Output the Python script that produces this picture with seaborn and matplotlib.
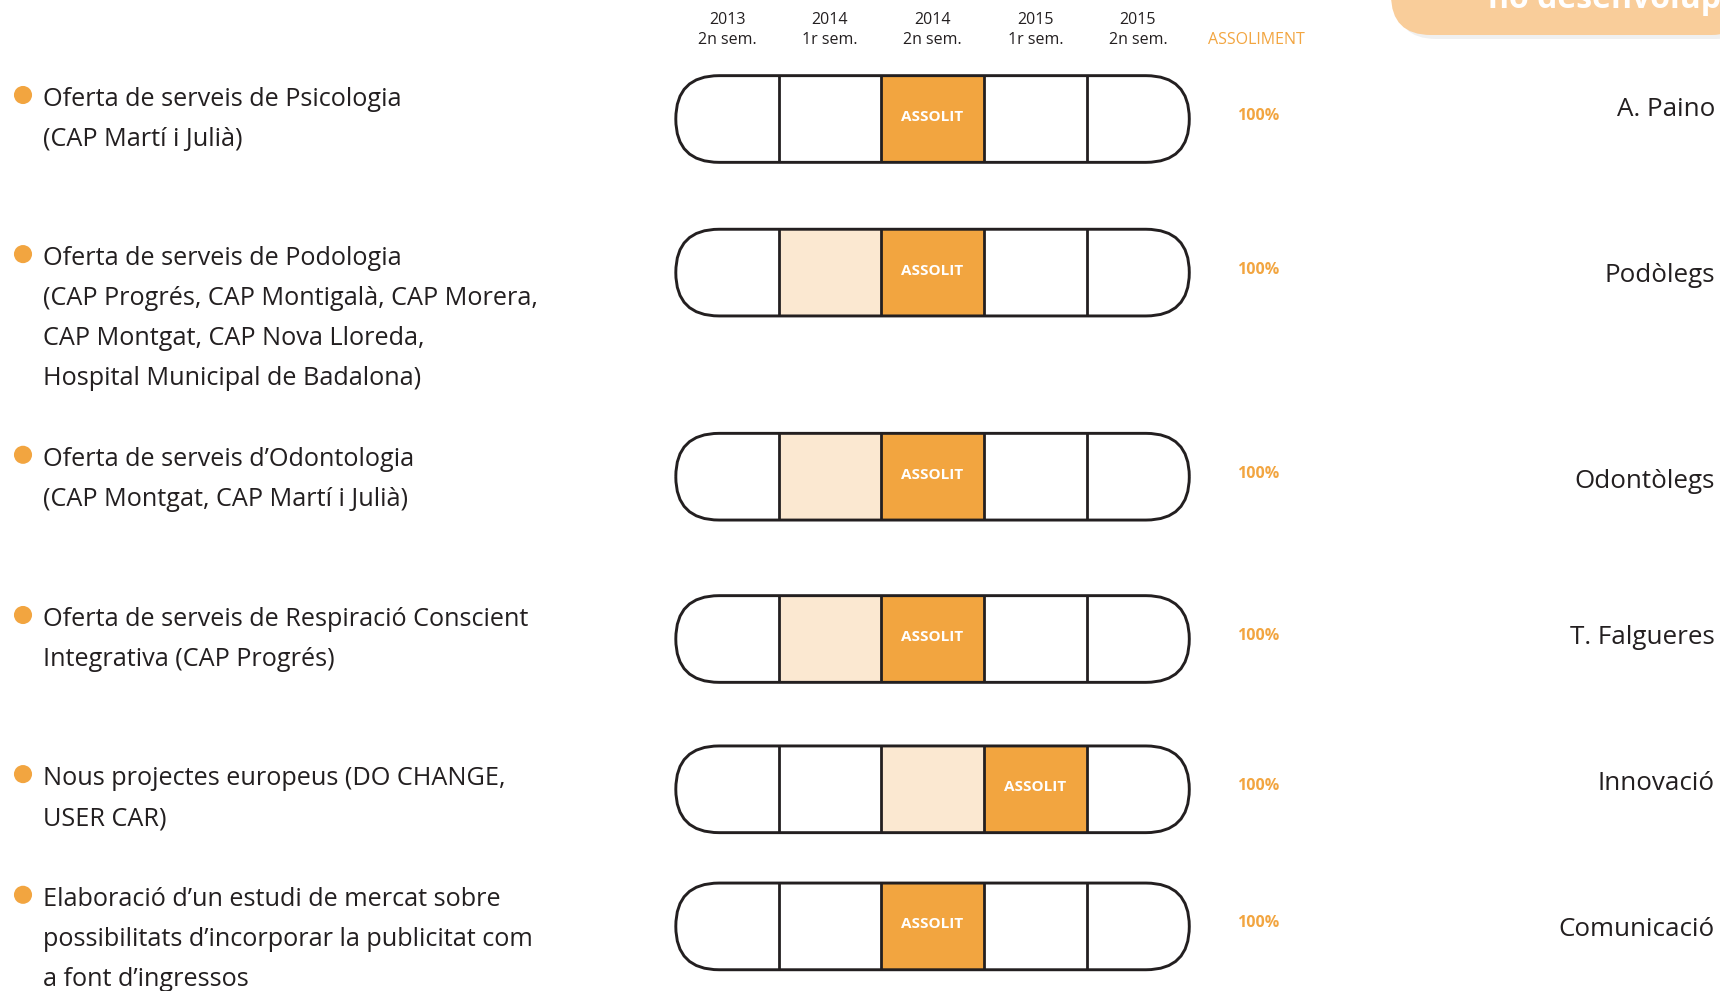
"""
Calendar of service actions: semester grid with achievement status
"""

import matplotlib.pyplot as plt
import seaborn as sns
import numpy as np
import pandas as pd
from matplotlib.patches import FancyBboxPatch, Rectangle

sns.set_style("white")
plt.rcParams['font.family'] = ['Open Sans', 'DejaVu Sans']

# Data
periods = ['2013\n2n sem.', '2014\n1r sem.', '2014\n2n sem.', '2015\n1r sem.', '2015\n2n sem.']
actions = [
    ['Oferta de serveis de Psicologia', '(CAP Martí i Julià)'],
    ['Oferta de serveis de Podologia', '(CAP Progrés, CAP Montigalà, CAP Morera,',
     'CAP Montgat, CAP Nova Lloreda,', 'Hospital Municipal de Badalona)'],
    ['Oferta de serveis d\u2019Odontologia', '(CAP Montgat, CAP Martí i Julià)'],
    ['Oferta de serveis de Respiració Conscient', 'Integrativa (CAP Progrés)'],
    ['Nous projectes europeus (DO CHANGE,', 'USER CAR)'],
    ['Elaboració d\u2019un estudi de mercat sobre',
     'possibilitats d\u2019incorporar la publicitat com', 'a font d\u2019ingressos'],
]
owners = ['A. Paino', 'Podòlegs', 'Odontòlegs', 'T. Falgueres', 'Innovació', 'Comunicació']
# status per semester: 0 = not planned, 1 = in progress, 2 = achieved
status = [
    [0, 0, 2, 0, 0],
    [0, 1, 2, 0, 0],
    [0, 1, 2, 0, 0],
    [0, 1, 2, 0, 0],
    [0, 0, 1, 2, 0],
    [0, 0, 2, 0, 0],
]
achievement = [100, 100, 100, 100, 100, 100]

# Layout (pixel coordinates)
W, H = 1720, 991
row_y = [119, 272.6, 476.7, 639, 789.3, 926.4]
text_y = [99.5, 258.6, 459.3, 619.5, 778.6, 899.3]
owner_y = [109, 276, 482, 637, 784, 930]
line_gap = 40
pill_left, cell_w, pill_h = 675.8, 102.7, 86.7

orange = '#f2a540'
light = '#fbe8d1'
edge = '#231f20'
text_col = '#231f20'
status_colors = {0: 'white', 1: light, 2: orange}

fig = plt.figure(figsize=(W / 100, H / 100), dpi=100)
ax = fig.add_axes([0, 0, 1, 1])
ax.set_xlim(0, W)
ax.set_ylim(H, 0)
ax.axis('off')

# Header
for i, p in enumerate(periods):
    ax.text(pill_left + (i + 0.5) * cell_w, 30, p, ha='center', va='center',
            fontsize=11.5, color=text_col, linespacing=1.3)
ax.text(1256, 40, 'ASSOLIMENT', ha='center', va='center', fontsize=11.5, color=orange)

# Top-right tab (clipped legend box)
shadow = FancyBboxPatch((1396, -60), 360, 99, boxstyle='round,pad=0,rounding_size=40',
                        facecolor='#000000', edgecolor='none', alpha=0.06, zorder=1)
ax.add_patch(shadow)
tab = FancyBboxPatch((1391, -60), 360, 95, boxstyle='round,pad=0,rounding_size=40',
                     facecolor='#f9cd9a', edgecolor='none', zorder=2)
ax.add_patch(tab)
ax.text(1488, 8, 'no desenvolupat', ha='left', va='baseline', fontsize=23,
        fontweight='bold', color='white', zorder=3)

# Rows
df = pd.DataFrame(status, columns=periods)
for r, row in df.iterrows():
    yc = row_y[r]
    top = yc - pill_h / 2
    pill = FancyBboxPatch((pill_left, top), 5 * cell_w, pill_h,
                          boxstyle=f'round,pad=0,rounding_size={pill_h / 2}',
                          facecolor='white', edgecolor='none', zorder=2)
    ax.add_patch(pill)
    for i, s in enumerate(row.values):
        cell = Rectangle((pill_left + i * cell_w, top), cell_w, pill_h,
                         facecolor=status_colors[s], edgecolor='none', zorder=3)
        cell.set_clip_path(pill)
        ax.add_patch(cell)
        if s == 2:
            ax.text(pill_left + (i + 0.5) * cell_w, yc - 2, 'ASSOLIT', ha='center',
                    va='center', fontsize=11, fontweight='bold', color='white', zorder=5)
    for i in range(1, 5):
        ax.plot([pill_left + i * cell_w] * 2, [top, top + pill_h], color=edge,
                lw=2.0, zorder=4, solid_capstyle='butt')
    outline = FancyBboxPatch((pill_left, top), 5 * cell_w, pill_h,
                             boxstyle=f'round,pad=0,rounding_size={pill_h / 2}',
                             facecolor='none', edgecolor=edge, lw=2.1, zorder=5)
    ax.add_patch(outline)

    ax.text(1258, yc - 3, f'{achievement[r]}%', ha='center', va='center',
            fontsize=11.5, fontweight='bold', color=orange)
    ax.text(1715, owner_y[r], owners[r], ha='right', va='center', fontsize=18.7,
            color=text_col)
    for k, line in enumerate(actions[r]):
        ax.text(43, text_y[r] + k * line_gap, line, ha='left', va='center',
                fontsize=18.2, color=text_col)

# Bullets
bullets = pd.DataFrame({'x': [23] * len(actions), 'y': [t - 4.5 for t in text_y]})
sns.scatterplot(data=bullets, x='x', y='y', s=170, color=orange, edgecolor='none',
                ax=ax, legend=False)

fig.savefig('out.png', dpi=100)
